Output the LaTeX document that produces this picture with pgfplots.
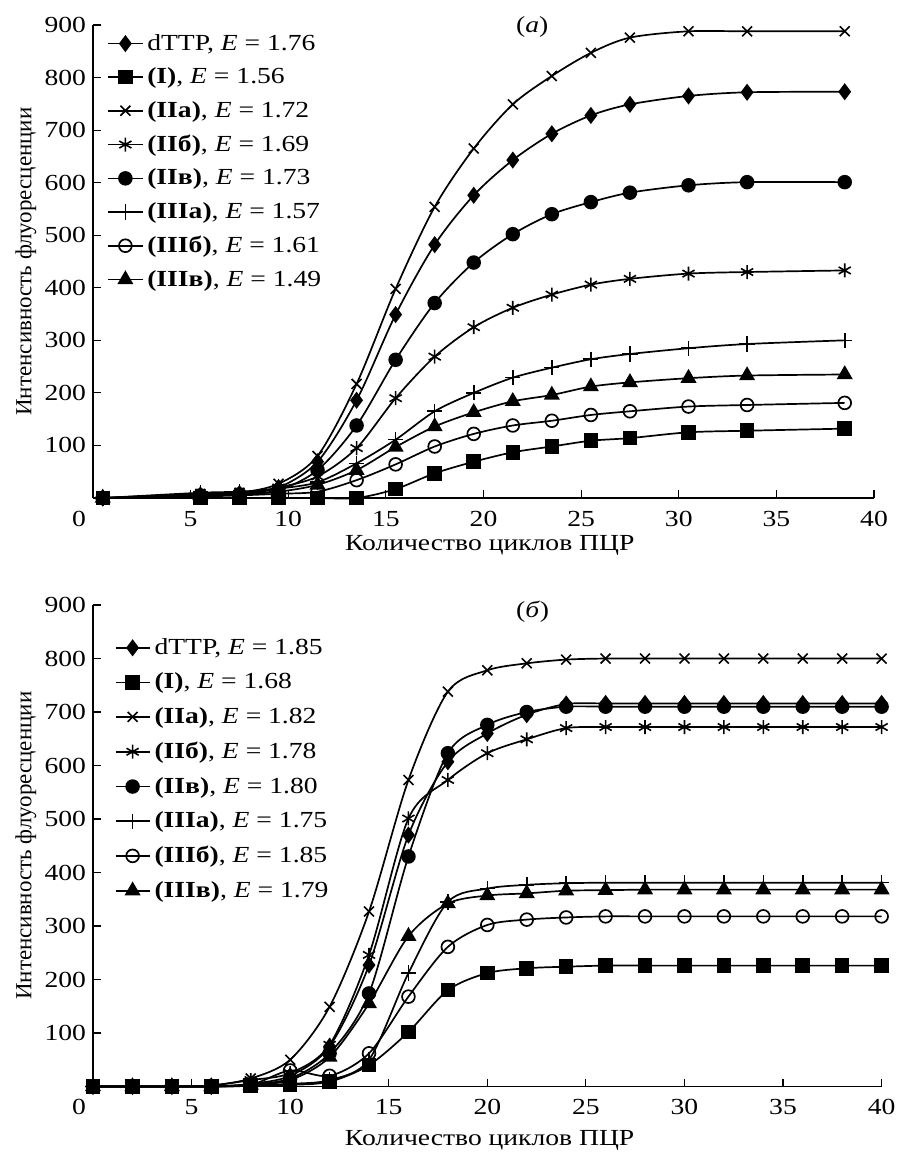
\documentclass[border=0pt]{standalone}
\usepackage{pgfplots}
\usepackage{pgfplotstable}
\usepackage{fontspec}
\setmainfont{Liberation Serif}[FakeStretch=1.2]
\newfontfamily\vertfont{Liberation Serif}
\pgfplotsset{compat=1.18}

% panel (a): cycles 0.5 ... 38.5
\pgfplotstableread{
x    d    I    IIa  IIb  IIv  IIIa IIIb IIIv
0.5  0    0    0    0    0    0    0    0
5.5  5    0    8    6    5    10   3    5
7.5  8    0    10   8    7    12   5    7
9.5  20   0    27   20   15   18   8    12
11.5 69   0    80   41   53   30   12   25
13.5 186  0    217  95   138  66   34   53
15.5 349  17   398  190  263  111  64   97
17.5 482  47   554  269  371  165  98   136
19.5 576  69   665  325  448  200  122  163
21.5 643  87   749  362  502  229  138  184
23.5 693  98   803  387  540  248  147  196
25.5 728  109  847  406  563  264  158  212
27.5 749  114  876  417  581  274  165  220
30.5 765  125  888  427  595  285  174  228
33.5 772  128  888  430  601  293  177  233
38.5 773  132  888  433  601  300  181  235
}\dataA

% panel (b): cycles 0 ... 40
\pgfplotstableread{
x    d    I    IIa  IIb  IIv  IIIa IIIb IIIv
0    0    0    0    0    0    0    0    0
2    0    0    0    0    0    0    0    0
4    0    0    0    0    0    0    0    0
6    0    0    2    2    0    0    0    0
8    5    2    15   12   4    2    3    3
10   20   3    50   25   15   5    30   12
12   75   9    149  78   62   12   20   55
14   227  40   327  246  174  50   62   155
16   470  102  573  501  430  212  168  281
18   607  180  738  573  623  345  261  342
20   660  212  778  623  676  370  302  357
22   695  221  791  649  700  377  312  361
24   715  224  798  670  710  380  316  366
26   716  226  800  672  710  381  318  367
28   716  226  800  672  710  381  318  368
30   716  226  800  672  710  381  318  368
32   716  226  800  672  710  381  318  368
34   716  226  800  672  710  381  318  368
36   716  226  800  672  710  381  318  368
38   716  226  800  672  710  381  318  368
40   716  226  800  672  710  381  318  368
}\dataB

\pgfplotsset{
  pcr/.style={
    scale only axis,
    axis lines=left,
    axis line style={-, line width=0.6pt},
    tick align=inside,
    major tick length=4pt,
    tick style={line width=0.6pt, black},
    xmin=0, xmax=40, ymin=0, ymax=900,
    xtick={5,10,...,40},
    ytick={100,200,...,900},
    xticklabel style={yshift=-3pt},
    extra x ticks={0},
    extra x tick style={major tick length=0pt, xticklabel style={xshift=-7pt}},
    /pgf/number format/assume math mode=true,
    clip=false,
    xlabel={Количество циклов ПЦР},
    ylabel={\vertfont Интенсивность флуоресценции},
    legend cell align=left,
    legend style={draw=none, fill=none, anchor=north west, inner sep=0pt,
      font=\fontsize{11.5}{13}\selectfont},
  },
  crv/.style={black, solid, line width=0.85pt, smooth, mark size=3.2pt,
    mark options={solid, line width=0.8pt}},
}

\begin{document}
\begin{tikzpicture}[font=\fontsize{11.5}{13.8}\selectfont]
\useasboundingbox (0,0) rectangle (450pt,-580.5pt);

% ---------- (a) ----------
\begin{axis}[pcr,
  at={(46.5pt,-249pt)}, anchor=south west,
  width=390.5pt, height=236.5pt,
  xlabel style={at={(axis description cs:0.508,-0.10)}, anchor=center},
  ylabel style={at={(axis description cs:-0.086,0.5)}, anchor=center},
  legend style={at={(axis description cs:0.018,0.99)}, row sep=3.3pt},
]
\addplot[crv, mark=diamond*, mark size=3.6pt, mark options={fill=black}] table[y=d] {\dataA};
\addlegendentry{dTTP, \textit{E} = 1.76}
\addplot[crv, mark=square*, mark options={fill=black}] table[y=I] {\dataA};
\addlegendentry{\textbf{(I)}, \textit{E} = 1.56}
\addplot[crv, mark=x, mark size=3.5pt] table[y=IIa] {\dataA};
\addlegendentry{\textbf{(IIа)}, \textit{E} = 1.72}
\addplot[crv, mark=asterisk, mark size=3.5pt] table[y=IIb] {\dataA};
\addlegendentry{\textbf{(IIб)}, \textit{E} = 1.69}
\addplot[crv, mark=*, mark options={fill=black}] table[y=IIv] {\dataA};
\addlegendentry{\textbf{(IIв)}, \textit{E} = 1.73}
\addplot[crv, mark=+, mark size=3.8pt] table[y=IIIa] {\dataA};
\addlegendentry{\textbf{(IIIа)}, \textit{E} = 1.57}
\addplot[crv, mark=o, mark options={fill=white}] table[y=IIIb] {\dataA};
\addlegendentry{\textbf{(IIIб)}, \textit{E} = 1.61}
\addplot[crv, mark=triangle*, mark size=3.8pt, mark options={fill=black}] table[y=IIIv] {\dataA};
\addlegendentry{\textbf{(IIIв)}, \textit{E} = 1.49}
\node at (axis cs:22.5,897) {(\textit{а})};
\end{axis}

% ---------- (b) ----------
\begin{axis}[pcr,
  at={(46.5pt,-543.25pt)}, anchor=south west,
  width=394.3pt, height=240.75pt,
  xlabel style={at={(axis description cs:0.503,-0.111)}, anchor=center},
  ylabel style={at={(axis description cs:-0.085,0.5)}, anchor=center},
  legend style={at={(axis description cs:0.027,0.94)}, row sep=3.8pt},
]
\addplot[crv, mark=diamond*, mark size=3.6pt, mark options={fill=black}] table[y=d] {\dataB};
\addlegendentry{dTTP, \textit{E} = 1.85}
\addplot[crv, mark=square*, mark options={fill=black}] table[y=I] {\dataB};
\addlegendentry{\textbf{(I)}, \textit{E} = 1.68}
\addplot[crv, mark=x, mark size=3.5pt] table[y=IIa] {\dataB};
\addlegendentry{\textbf{(IIа)}, \textit{E} = 1.82}
\addplot[crv, mark=asterisk, mark size=3.5pt] table[y=IIb] {\dataB};
\addlegendentry{\textbf{(IIб)}, \textit{E} = 1.78}
\addplot[crv, mark=*, mark options={fill=black}] table[y=IIv] {\dataB};
\addlegendentry{\textbf{(IIв)}, \textit{E} = 1.80}
\addplot[crv, mark=+, mark size=3.8pt] table[y=IIIa] {\dataB};
\addlegendentry{\textbf{(IIIа)}, \textit{E} = 1.75}
\addplot[crv, mark=o, mark options={fill=white}] table[y=IIIb] {\dataB};
\addlegendentry{\textbf{(IIIб)}, \textit{E} = 1.85}
\addplot[crv, mark=triangle*, mark size=3.8pt, mark options={fill=black}] table[y=IIIv] {\dataB};
\addlegendentry{\textbf{(IIIв)}, \textit{E} = 1.79}
\node at (axis cs:22.3,887) {(\textit{б})};
\end{axis}
\end{tikzpicture}
\end{document}
